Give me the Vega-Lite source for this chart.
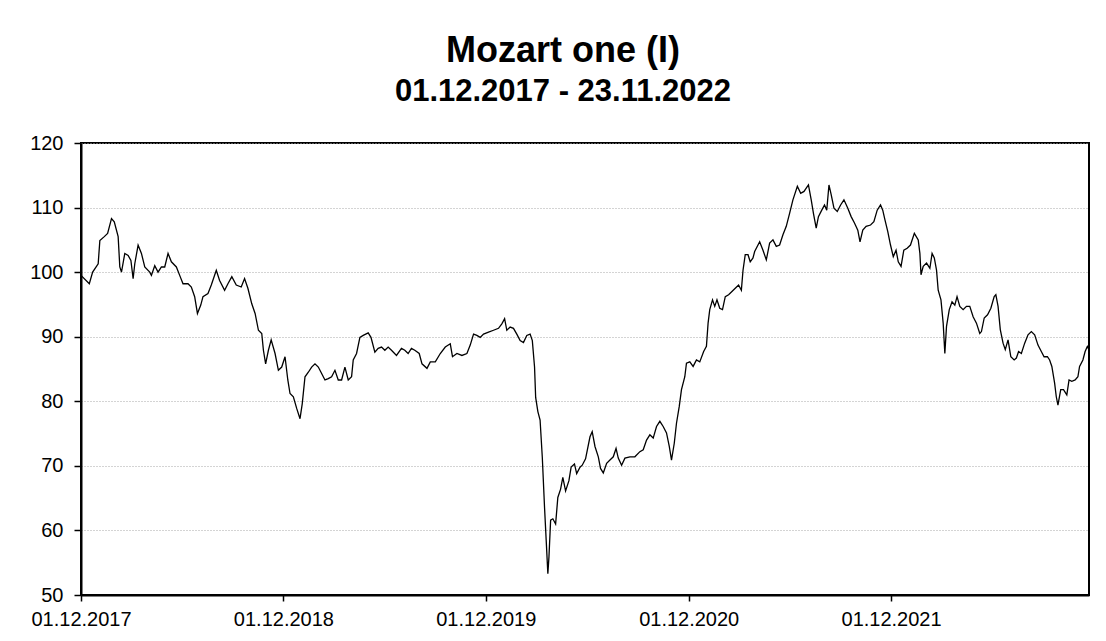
{
  "$schema": "https://vega.github.io/schema/vega-lite/v6.json",
  "width": 1008,
  "height": 452,
  "autosize": {"type": "none"},
  "padding": {"left": 81, "top": 143, "right": 17, "bottom": 46},
  "background": "white",
  "title": {
    "text": "Mozart one (I)",
    "subtitle": "01.12.2017 - 23.11.2022",
    "font": "Liberation Sans",
    "fontSize": 36,
    "fontWeight": "bold",
    "color": "black",
    "subtitleFont": "Liberation Sans",
    "subtitleFontSize": 31,
    "subtitleFontWeight": "bold",
    "subtitleColor": "black",
    "subtitlePadding": 7,
    "anchor": "middle",
    "frame": "group",
    "dx": -22,
    "offset": 25
  },
  "config": {
    "view": {"stroke": "black", "strokeWidth": 2},
    "axis": {
      "labelFont": "Liberation Sans",
      "labelFontSize": 20,
      "labelColor": "black",
      "domainColor": "black",
      "domainWidth": 2,
      "tickColor": "black",
      "tickWidth": 1.5,
      "title": null
    }
  },
  "data": {
    "values": [
      {"date": "2017-12-01", "value": 99.5},
      {"date": "2017-12-16", "value": 98.2},
      {"date": "2017-12-22", "value": 100},
      {"date": "2018-01-01", "value": 101.3},
      {"date": "2018-01-04", "value": 104.9},
      {"date": "2018-01-12", "value": 105.5},
      {"date": "2018-01-18", "value": 106},
      {"date": "2018-01-25", "value": 108.3},
      {"date": "2018-01-30", "value": 107.8},
      {"date": "2018-02-06", "value": 105.5},
      {"date": "2018-02-09", "value": 100.8},
      {"date": "2018-02-12", "value": 100},
      {"date": "2018-02-18", "value": 102.9},
      {"date": "2018-02-24", "value": 102.6},
      {"date": "2018-03-01", "value": 101.8},
      {"date": "2018-03-05", "value": 99},
      {"date": "2018-03-08", "value": 101.3},
      {"date": "2018-03-14", "value": 104.2},
      {"date": "2018-03-20", "value": 102.9},
      {"date": "2018-03-26", "value": 100.8},
      {"date": "2018-04-04", "value": 100},
      {"date": "2018-04-07", "value": 99.5},
      {"date": "2018-04-13", "value": 101},
      {"date": "2018-04-19", "value": 100},
      {"date": "2018-04-25", "value": 100.8},
      {"date": "2018-05-01", "value": 100.8},
      {"date": "2018-05-07", "value": 102.9},
      {"date": "2018-05-13", "value": 101.6},
      {"date": "2018-05-22", "value": 100.8},
      {"date": "2018-05-28", "value": 99.5},
      {"date": "2018-06-03", "value": 98.2},
      {"date": "2018-06-12", "value": 98.2},
      {"date": "2018-06-18", "value": 97.7},
      {"date": "2018-06-24", "value": 96.2},
      {"date": "2018-06-29", "value": 93.6},
      {"date": "2018-07-05", "value": 94.9},
      {"date": "2018-07-09", "value": 96.2},
      {"date": "2018-07-18", "value": 96.7},
      {"date": "2018-07-24", "value": 98},
      {"date": "2018-08-02", "value": 100.3},
      {"date": "2018-08-08", "value": 98.7},
      {"date": "2018-08-17", "value": 97.2},
      {"date": "2018-08-23", "value": 98.2},
      {"date": "2018-08-30", "value": 99.3},
      {"date": "2018-09-07", "value": 98},
      {"date": "2018-09-16", "value": 97.7},
      {"date": "2018-09-22", "value": 99},
      {"date": "2018-09-28", "value": 97.5},
      {"date": "2018-10-05", "value": 95.1},
      {"date": "2018-10-11", "value": 93.6},
      {"date": "2018-10-17", "value": 91},
      {"date": "2018-10-23", "value": 90.5},
      {"date": "2018-10-26", "value": 87.9},
      {"date": "2018-10-30", "value": 85.8},
      {"date": "2018-11-04", "value": 87.9},
      {"date": "2018-11-09", "value": 89.5},
      {"date": "2018-11-16", "value": 87.4},
      {"date": "2018-11-22", "value": 84.8},
      {"date": "2018-11-28", "value": 85.3},
      {"date": "2018-12-04", "value": 86.9},
      {"date": "2018-12-09", "value": 83.3},
      {"date": "2018-12-13", "value": 81.2},
      {"date": "2018-12-19", "value": 80.7},
      {"date": "2018-12-25", "value": 78.9},
      {"date": "2018-12-31", "value": 77.3},
      {"date": "2019-01-04", "value": 79.6},
      {"date": "2019-01-09", "value": 83.8},
      {"date": "2019-01-15", "value": 84.5},
      {"date": "2019-01-21", "value": 85.3},
      {"date": "2019-01-27", "value": 85.8},
      {"date": "2019-02-02", "value": 85.3},
      {"date": "2019-02-08", "value": 84.3},
      {"date": "2019-02-14", "value": 83.3},
      {"date": "2019-02-20", "value": 83.5},
      {"date": "2019-02-26", "value": 83.8},
      {"date": "2019-03-04", "value": 84.8},
      {"date": "2019-03-10", "value": 83.3},
      {"date": "2019-03-16", "value": 83.3},
      {"date": "2019-03-22", "value": 85.3},
      {"date": "2019-03-28", "value": 83.3},
      {"date": "2019-04-03", "value": 83.8},
      {"date": "2019-04-06", "value": 86.4},
      {"date": "2019-04-12", "value": 87.4},
      {"date": "2019-04-18", "value": 89.9},
      {"date": "2019-04-24", "value": 90.2},
      {"date": "2019-05-03", "value": 90.6},
      {"date": "2019-05-08", "value": 89.9},
      {"date": "2019-05-15", "value": 87.6},
      {"date": "2019-05-21", "value": 88.2},
      {"date": "2019-05-27", "value": 88.4},
      {"date": "2019-06-02", "value": 87.9},
      {"date": "2019-06-08", "value": 88.4},
      {"date": "2019-06-14", "value": 87.9},
      {"date": "2019-06-23", "value": 87.1},
      {"date": "2019-07-02", "value": 88.2},
      {"date": "2019-07-08", "value": 87.9},
      {"date": "2019-07-14", "value": 87.4},
      {"date": "2019-07-20", "value": 88.2},
      {"date": "2019-07-26", "value": 87.9},
      {"date": "2019-08-03", "value": 87.4},
      {"date": "2019-08-08", "value": 85.8},
      {"date": "2019-08-17", "value": 85.1},
      {"date": "2019-08-23", "value": 86.1},
      {"date": "2019-09-01", "value": 86.1},
      {"date": "2019-09-10", "value": 87.4},
      {"date": "2019-09-19", "value": 88.4},
      {"date": "2019-09-28", "value": 88.9},
      {"date": "2019-10-02", "value": 86.9},
      {"date": "2019-10-10", "value": 87.4},
      {"date": "2019-10-19", "value": 87.1},
      {"date": "2019-10-28", "value": 87.4},
      {"date": "2019-11-03", "value": 88.7},
      {"date": "2019-11-09", "value": 90.4},
      {"date": "2019-11-15", "value": 90.2},
      {"date": "2019-11-21", "value": 89.9},
      {"date": "2019-11-27", "value": 90.4},
      {"date": "2019-12-06", "value": 90.7},
      {"date": "2019-12-15", "value": 91},
      {"date": "2019-12-24", "value": 91.3},
      {"date": "2019-12-30", "value": 92},
      {"date": "2020-01-04", "value": 92.8},
      {"date": "2020-01-08", "value": 91},
      {"date": "2020-01-14", "value": 91.5},
      {"date": "2020-01-20", "value": 91.3},
      {"date": "2020-01-26", "value": 90.4},
      {"date": "2020-02-01", "value": 89.4},
      {"date": "2020-02-07", "value": 89.1},
      {"date": "2020-02-13", "value": 90.2},
      {"date": "2020-02-19", "value": 90.4},
      {"date": "2020-02-23", "value": 89.4},
      {"date": "2020-02-27", "value": 85.3},
      {"date": "2020-02-29", "value": 80.6},
      {"date": "2020-03-04", "value": 78.4},
      {"date": "2020-03-08", "value": 77.1},
      {"date": "2020-03-12", "value": 71.3},
      {"date": "2020-03-16", "value": 63.6},
      {"date": "2020-03-19", "value": 58.5},
      {"date": "2020-03-22", "value": 53.3},
      {"date": "2020-03-24", "value": 55.9},
      {"date": "2020-03-27", "value": 61.6},
      {"date": "2020-03-31", "value": 61.8},
      {"date": "2020-04-05", "value": 61},
      {"date": "2020-04-09", "value": 65.1},
      {"date": "2020-04-14", "value": 66.4},
      {"date": "2020-04-18", "value": 68.2},
      {"date": "2020-04-23", "value": 66.1},
      {"date": "2020-04-29", "value": 67.7},
      {"date": "2020-05-03", "value": 69.8},
      {"date": "2020-05-09", "value": 70.3},
      {"date": "2020-05-13", "value": 68.8},
      {"date": "2020-05-19", "value": 69.8},
      {"date": "2020-05-23", "value": 70.1},
      {"date": "2020-05-29", "value": 71.1},
      {"date": "2020-06-06", "value": 74.5},
      {"date": "2020-06-10", "value": 75.3},
      {"date": "2020-06-15", "value": 73},
      {"date": "2020-06-21", "value": 71.4},
      {"date": "2020-06-25", "value": 69.6},
      {"date": "2020-06-30", "value": 68.9},
      {"date": "2020-07-06", "value": 70.4},
      {"date": "2020-07-12", "value": 70.9},
      {"date": "2020-07-18", "value": 71.4},
      {"date": "2020-07-23", "value": 72.7},
      {"date": "2020-07-27", "value": 71.2},
      {"date": "2020-08-02", "value": 70.1},
      {"date": "2020-08-08", "value": 71.2},
      {"date": "2020-08-17", "value": 71.4},
      {"date": "2020-08-26", "value": 71.4},
      {"date": "2020-09-04", "value": 72.2},
      {"date": "2020-09-10", "value": 72.5},
      {"date": "2020-09-16", "value": 74},
      {"date": "2020-09-22", "value": 74.8},
      {"date": "2020-09-28", "value": 74.3},
      {"date": "2020-10-04", "value": 76.1},
      {"date": "2020-10-10", "value": 76.9},
      {"date": "2020-10-16", "value": 76.1},
      {"date": "2020-10-22", "value": 75.1},
      {"date": "2020-10-27", "value": 73},
      {"date": "2020-10-31", "value": 70.9},
      {"date": "2020-11-05", "value": 73.5},
      {"date": "2020-11-09", "value": 76.6},
      {"date": "2020-11-14", "value": 79.2},
      {"date": "2020-11-18", "value": 81.8},
      {"date": "2020-11-24", "value": 83.8},
      {"date": "2020-11-27", "value": 85.9},
      {"date": "2020-12-03", "value": 86.1},
      {"date": "2020-12-09", "value": 85.4},
      {"date": "2020-12-15", "value": 86.4},
      {"date": "2020-12-21", "value": 86.1},
      {"date": "2020-12-28", "value": 87.7},
      {"date": "2021-01-02", "value": 88.5},
      {"date": "2021-01-05", "value": 92.1},
      {"date": "2021-01-08", "value": 94.2},
      {"date": "2021-01-13", "value": 95.7},
      {"date": "2021-01-17", "value": 94.7},
      {"date": "2021-01-21", "value": 95.7},
      {"date": "2021-01-26", "value": 94.4},
      {"date": "2021-01-31", "value": 94.2},
      {"date": "2021-02-05", "value": 96.2},
      {"date": "2021-02-11", "value": 96.5},
      {"date": "2021-02-17", "value": 97},
      {"date": "2021-02-23", "value": 97.5},
      {"date": "2021-03-01", "value": 98},
      {"date": "2021-03-06", "value": 97.2},
      {"date": "2021-03-09", "value": 100.3},
      {"date": "2021-03-13", "value": 102.7},
      {"date": "2021-03-18", "value": 102.7},
      {"date": "2021-03-22", "value": 101.6},
      {"date": "2021-03-27", "value": 102.2},
      {"date": "2021-03-30", "value": 103.2},
      {"date": "2021-04-08", "value": 104.7},
      {"date": "2021-04-14", "value": 103.4},
      {"date": "2021-04-20", "value": 101.9},
      {"date": "2021-04-26", "value": 104.5},
      {"date": "2021-05-02", "value": 105},
      {"date": "2021-05-08", "value": 104},
      {"date": "2021-05-14", "value": 104.2},
      {"date": "2021-05-20", "value": 105.8},
      {"date": "2021-05-26", "value": 107.1},
      {"date": "2021-06-01", "value": 109.1},
      {"date": "2021-06-07", "value": 111.2},
      {"date": "2021-06-15", "value": 113.3},
      {"date": "2021-06-21", "value": 112.2},
      {"date": "2021-06-27", "value": 112.5},
      {"date": "2021-07-01", "value": 113},
      {"date": "2021-07-05", "value": 113.5},
      {"date": "2021-07-10", "value": 111.2},
      {"date": "2021-07-14", "value": 109.1},
      {"date": "2021-07-19", "value": 106.8},
      {"date": "2021-07-23", "value": 108.6},
      {"date": "2021-07-29", "value": 109.6},
      {"date": "2021-08-03", "value": 110.4},
      {"date": "2021-08-07", "value": 109.6},
      {"date": "2021-08-11", "value": 113.5},
      {"date": "2021-08-15", "value": 112},
      {"date": "2021-08-20", "value": 109.9},
      {"date": "2021-08-26", "value": 109.4},
      {"date": "2021-09-01", "value": 110.4},
      {"date": "2021-09-07", "value": 111.2},
      {"date": "2021-09-14", "value": 109.9},
      {"date": "2021-09-20", "value": 108.6},
      {"date": "2021-09-26", "value": 107.6},
      {"date": "2021-10-02", "value": 106.5},
      {"date": "2021-10-06", "value": 104.7},
      {"date": "2021-10-11", "value": 106.5},
      {"date": "2021-10-17", "value": 107.1},
      {"date": "2021-10-25", "value": 107.3},
      {"date": "2021-10-31", "value": 107.8},
      {"date": "2021-11-06", "value": 109.6},
      {"date": "2021-11-12", "value": 110.4},
      {"date": "2021-11-16", "value": 109.6},
      {"date": "2021-11-20", "value": 108.1},
      {"date": "2021-11-25", "value": 106.3},
      {"date": "2021-11-30", "value": 104.2},
      {"date": "2021-12-05", "value": 102.4},
      {"date": "2021-12-10", "value": 103.4},
      {"date": "2021-12-14", "value": 101.6},
      {"date": "2021-12-19", "value": 100.9},
      {"date": "2021-12-24", "value": 103.4},
      {"date": "2021-12-30", "value": 103.7},
      {"date": "2022-01-05", "value": 104.2},
      {"date": "2022-01-12", "value": 106},
      {"date": "2022-01-19", "value": 105},
      {"date": "2022-01-22", "value": 102.9},
      {"date": "2022-01-24", "value": 99.6},
      {"date": "2022-01-28", "value": 100.9},
      {"date": "2022-02-03", "value": 101.4},
      {"date": "2022-02-09", "value": 100.6},
      {"date": "2022-02-13", "value": 102.9},
      {"date": "2022-02-17", "value": 102.2},
      {"date": "2022-02-21", "value": 100.3},
      {"date": "2022-02-24", "value": 97.2},
      {"date": "2022-03-01", "value": 95.7},
      {"date": "2022-03-05", "value": 92.1},
      {"date": "2022-03-08", "value": 87.4},
      {"date": "2022-03-11", "value": 91.6},
      {"date": "2022-03-16", "value": 94.2},
      {"date": "2022-03-21", "value": 95.4},
      {"date": "2022-03-26", "value": 94.9},
      {"date": "2022-03-30", "value": 96.2},
      {"date": "2022-04-04", "value": 94.7},
      {"date": "2022-04-10", "value": 94.2},
      {"date": "2022-04-16", "value": 94.7},
      {"date": "2022-04-22", "value": 94.7},
      {"date": "2022-04-28", "value": 93.1},
      {"date": "2022-05-04", "value": 92.1},
      {"date": "2022-05-10", "value": 90.5},
      {"date": "2022-05-13", "value": 90.8},
      {"date": "2022-05-18", "value": 92.9},
      {"date": "2022-05-24", "value": 93.4},
      {"date": "2022-05-30", "value": 94.4},
      {"date": "2022-06-05", "value": 96.2},
      {"date": "2022-06-08", "value": 96.5},
      {"date": "2022-06-12", "value": 94.7},
      {"date": "2022-06-16", "value": 91.1},
      {"date": "2022-06-21", "value": 89},
      {"date": "2022-06-25", "value": 88},
      {"date": "2022-06-30", "value": 89.5},
      {"date": "2022-07-05", "value": 86.9},
      {"date": "2022-07-11", "value": 86.4},
      {"date": "2022-07-15", "value": 86.7},
      {"date": "2022-07-19", "value": 87.7},
      {"date": "2022-07-24", "value": 87.4},
      {"date": "2022-07-30", "value": 89},
      {"date": "2022-08-05", "value": 90.3},
      {"date": "2022-08-11", "value": 90.8},
      {"date": "2022-08-17", "value": 90.3},
      {"date": "2022-08-23", "value": 88.7},
      {"date": "2022-08-29", "value": 87.7},
      {"date": "2022-09-03", "value": 86.9},
      {"date": "2022-09-09", "value": 86.9},
      {"date": "2022-09-13", "value": 86.4},
      {"date": "2022-09-17", "value": 85.4},
      {"date": "2022-09-22", "value": 82.8},
      {"date": "2022-09-25", "value": 80.7},
      {"date": "2022-09-28", "value": 79.4},
      {"date": "2022-10-03", "value": 81.8},
      {"date": "2022-10-08", "value": 81.8},
      {"date": "2022-10-14", "value": 81},
      {"date": "2022-10-18", "value": 83.3},
      {"date": "2022-10-23", "value": 83.1},
      {"date": "2022-10-29", "value": 83.3},
      {"date": "2022-11-03", "value": 83.8},
      {"date": "2022-11-06", "value": 85.4},
      {"date": "2022-11-12", "value": 86.4},
      {"date": "2022-11-16", "value": 87.7},
      {"date": "2022-11-20", "value": 88.5},
      {"date": "2022-11-23", "value": 88}
    ],
    "format": {"parse": {"date": "date:'%Y-%m-%d'"}}
  },
  "mark": {"type": "line", "color": "black", "strokeWidth": 1.3, "clip": true},
  "encoding": {
    "x": {
      "field": "date",
      "type": "temporal",
      "scale": {"domain": [{"year": 2017, "month": 12, "date": 1}, {"year": 2022, "month": 11, "date": 23}], "nice": false},
      "axis": {
        "values": [
          {"year": 2017, "month": 12, "date": 1},
          {"year": 2018, "month": 12, "date": 1},
          {"year": 2019, "month": 12, "date": 1},
          {"year": 2020, "month": 12, "date": 1},
          {"year": 2021, "month": 12, "date": 1}
        ],
        "format": "%d.%m.%Y",
        "grid": false,
        "tickSize": 6,
        "labelPadding": 8,
        "labelOverlap": false,
        "labelBound": false,
        "labelFlush": false
      }
    },
    "y": {
      "field": "value",
      "type": "quantitative",
      "scale": {"domain": [50, 120], "nice": false, "zero": false},
      "axis": {
        "values": [50, 60, 70, 80, 90, 100, 110, 120],
        "grid": true,
        "gridColor": "#a8a8a8",
        "gridDash": [1, 2],
        "gridWidth": 1,
        "tickSize": 7,
        "labelPadding": 11
      }
    }
  }
}
